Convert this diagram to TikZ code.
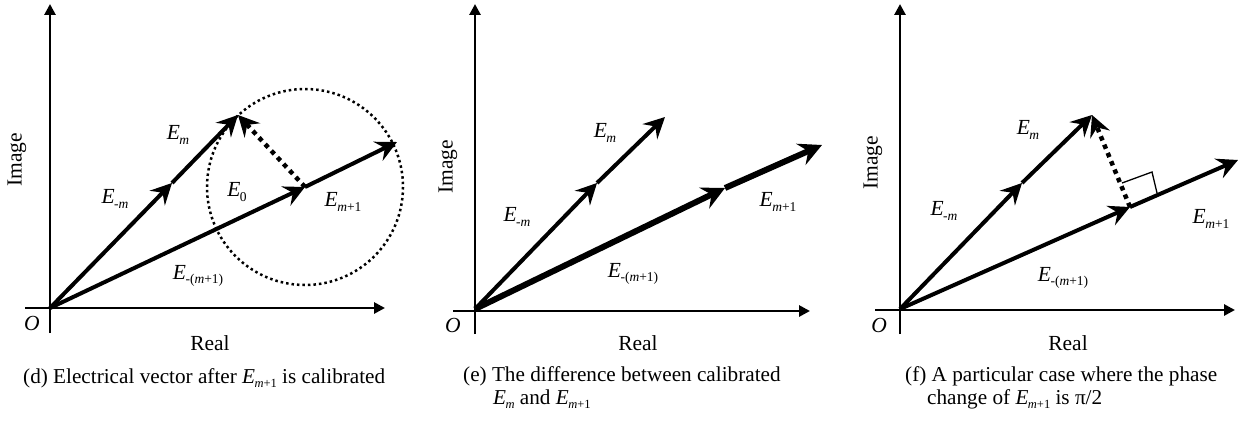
\documentclass[tikz,border=0pt]{standalone}
\usepackage{fontspec}
\setmainfont{Liberation Serif}
\usetikzlibrary{arrows.meta,calc}
\newcommand{\Ev}[1]{\textit{E}\kern-0.5pt\raisebox{-4.5pt}{\fontsize{13.5}{13.5}\selectfont #1}}
\newcommand{\Ec}[1]{\textit{E}\kern-0.5pt\raisebox{-4pt}{\fontsize{12.5}{12.5}\selectfont #1}}
\begin{document}
\begin{tikzpicture}[x=1pt,y=-1pt,
  axis/.style={line width=2.8pt,-{Triangle[length=11pt,width=11pt]}},
  vec/.style={line width=4pt,-{Stealth[length=21pt,width=21pt,inset=7.5pt]}},
  thickvec/.style={line width=6pt,-{Stealth[length=23pt,width=23pt,inset=8pt]}},
  dotvec/.style={line width=4.5pt,dash pattern=on 4.5pt off 4.5pt,-{Stealth[length=21pt,width=21pt,inset=7.5pt]}},
  lbl/.style={inner sep=0pt,font=\fontsize{21.5}{24}\selectfont},
  captext/.style={inner sep=0pt,anchor=base west,font=\fontsize{21.2}{24}\selectfont},
  circ/.style={line width=2.5pt,dash pattern=on 2.5pt off 3pt},
  rmark/.style={line width=1.3pt}]
\useasboundingbox (0,0) rectangle (1246,420);
% ---------------- (d)
\coordinate (dxl) at (25,308); \coordinate (dxr) at (385,308);
\coordinate (dyb) at (50,333); \coordinate (dyt) at (50,4);
\draw[axis] (dxl) -- (dxr);
\draw[axis] (dyb) -- (dyt);
\coordinate (dO) at (50,308);
\coordinate (dA) at (172,183);
\coordinate (dB) at (238,115);
\coordinate (dC) at (305,187);
\coordinate (dD) at (397,142);
\draw[circ] (dC) circle[radius=98];
\draw[vec] (dO) -- (dA);
\draw[vec] (dA) -- (dB);
\draw[vec] (dO) -- (dC);
\draw[vec] (dC) -- (dD);
\draw[dotvec] (dC) -- (dB);
\node[lbl] (dlEmm) at (115,199) {\Ev{-\textit{m}}};
\node[lbl] (dlEm) at (178,135) {\Ev{\textit{m}}};
\node[lbl] (dlE0) at (237,192) {\Ev{0}};
\node[lbl] (dlEm1) at (343,202) {\Ev{\textit{m}+1}};
\node[lbl] (dlEmm1) at (198,276) {\Ev{-(\textit{m}+1)}};
\node[lbl] (dlO) at (32,323) {\textit{O}};
\node[lbl] (dlR) at (210,343) {Real};
\node[lbl,rotate=90] (dlI) at (17,160) {Image};
\node[captext] (dc1) at (23,383) {(d) Electrical vector after \Ec{\textit{m}+1} is calibrated};
% ---------------- (e)
\coordinate (exl) at (453,311); \coordinate (exr) at (810,311);
\coordinate (eyb) at (475,334); \coordinate (eyt) at (475,4);
\draw[axis] (exl) -- (exr);
\draw[axis] (eyb) -- (eyt);
\coordinate (eO) at (475,309);
\coordinate (eA) at (597,183);
\coordinate (eB) at (665,117);
\coordinate (eC) at (725,188);
\coordinate (eD) at (822,145);
\draw[vec] (eO) -- (eA);
\draw[vec] (eA) -- (eB);
\draw[thickvec] (eO) -- (eC);
\draw[thickvec] (eC) -- (eD);
\node[lbl] (elEmm) at (517,217) {\Ev{-\textit{m}}};
\node[lbl] (elEm) at (605,133) {\Ev{\textit{m}}};
\node[lbl] (elEm1) at (778,202) {\Ev{\textit{m}+1}};
\node[lbl] (elEmm1) at (633,274) {\Ev{-(\textit{m}+1)}};
\node[lbl] (elO) at (453,325) {\textit{O}};
\node[lbl] (elR) at (638,343) {Real};
\node[lbl,rotate=90] (elI) at (448,167) {Image};
\node[captext] (ec1) at (463,381) {(e) The difference between calibrated};
\node[captext] (ec2) at (493,404) {\Ec{\textit{m}} and \Ec{\textit{m}+1}};
% ---------------- (f)
\coordinate (fxl) at (875,310); \coordinate (fxr) at (1235,310);
\coordinate (fyb) at (900,334); \coordinate (fyt) at (900,4);
\draw[axis] (fxl) -- (fxr);
\draw[axis] (fyb) -- (fyt);
\coordinate (fO) at (900,309);
\coordinate (fA) at (1022,183);
\coordinate (fB) at (1092,115);
\coordinate (fC) at (1130,207);
\coordinate (fD) at (1238,160);
\draw[vec] (fO) -- (fA);
\draw[vec] (fA) -- (fB);
\draw[vec] (fO) -- (fC);
\draw[vec] (fC) -- (fD);
\draw[dotvec] (fC) -- (fB);
\coordinate (fr1) at (1122,183);
\coordinate (fr2) at (1152,172);
\coordinate (fr3) at (1157,193);
\draw[rmark] (fr1) -- (fr2) -- (fr3);
\node[lbl] (flEmm) at (944,211) {\Ev{-\textit{m}}};
\node[lbl] (flEm) at (1028,130) {\Ev{\textit{m}}};
\node[lbl] (flEm1) at (1211,219) {\Ev{\textit{m}+1}};
\node[lbl] (flEmm1) at (1063,278) {\Ev{-(\textit{m}+1)}};
\node[lbl] (flO) at (879,325) {\textit{O}};
\node[lbl] (flR) at (1068,343) {Real};
\node[lbl,rotate=90] (flI) at (873,163) {Image};
\node[captext] (fc1) at (905,381) {(f) A particular case where the phase};
\node[captext] (fc2) at (927,404) {change of \Ec{\textit{m}+1} is π/2};
\end{tikzpicture}
\end{document}
